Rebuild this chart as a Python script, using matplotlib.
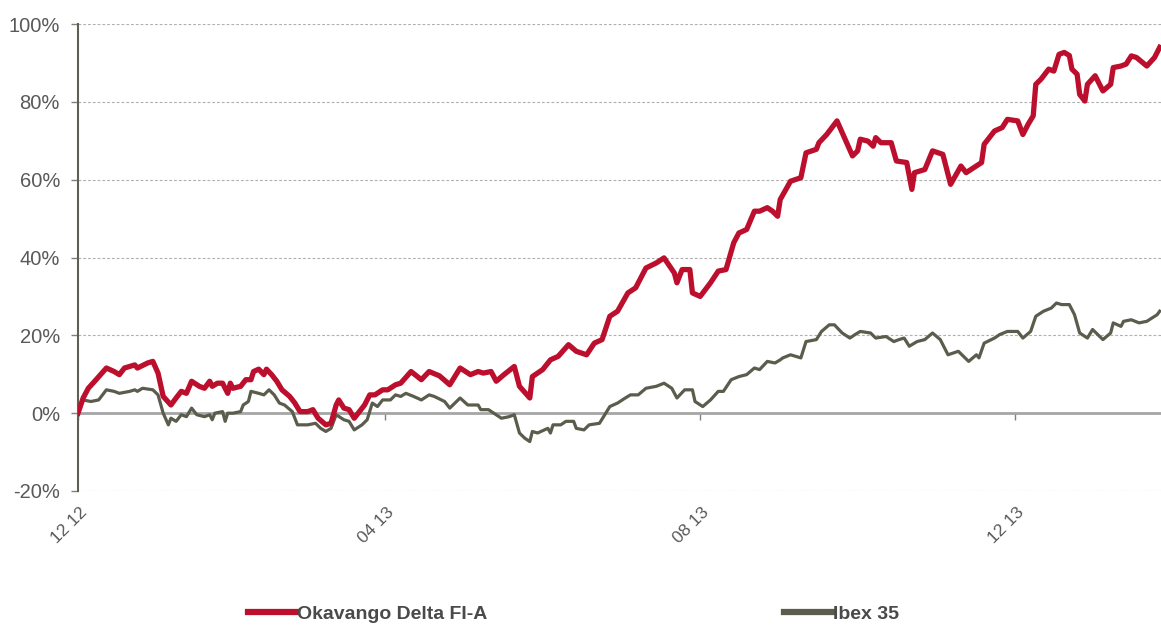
import numpy as np
import pandas as pd
import matplotlib
matplotlib.use("Agg")
import matplotlib.pyplot as plt
import matplotlib.transforms as mtransforms

# days since 2012-12-01, cumulative return in %
okavango_days = [2, 4, 6, 9, 13, 16, 18, 20, 24, 25, 29, 31, 33, 35, 38, 40, 42, 44, 46, 49,
                 51, 53, 54, 56, 58, 60, 61, 62, 65, 67, 69, 70, 72, 74, 75, 77, 79, 81, 84, 86,
                 88, 91, 93, 95, 98, 100, 102, 103, 105, 107, 109, 111, 113, 115, 117, 120, 122, 125, 127,
                 131, 135, 138, 142, 146, 150, 154, 157, 159, 162, 164, 167, 171, 173, 177, 178, 182, 185, 188, 192,
                 195, 199, 202, 205, 208, 211, 215, 218, 222, 226, 229, 233, 234, 236, 239, 240, 243, 247, 250, 253,
                 256, 258, 261, 264, 266, 269, 271, 273, 274,
                 278, 282, 284, 288, 289, 292, 296, 298, 302, 304, 305, 308, 310, 311, 313, 317, 319, 323, 325, 326,
                 330, 333, 337, 340, 344, 346, 349, 352, 353, 357, 360, 362, 366, 368, 370, 372, 373, 375, 378, 380,
                 382, 384, 386, 387, 389, 390, 392, 393, 396, 399, 402, 403, 406, 408, 410, 412, 416, 419, 421]
okavango_vals = [0, 3.9, 6.4, 8.6, 11.6, 10.7, 9.9, 11.6, 12.4, 11.6, 12.9, 13.3, 10.3, 4.3, 2.1, 3.9, 5.6, 5.1, 8.2, 6.9,
                 6.4, 8.2, 6.9, 7.7, 7.7, 5.1, 7.7, 6.4, 6.9, 8.6, 8.6, 10.7, 11.3, 9.9, 11.3, 9.9, 8.2, 6.0, 4.3, 2.6,
                 0.4, 0.4, 0.9, -1.3, -3.0, -2.6, 2.1, 3.4, 1.3, 0.9, -1.3, 0.4, 2.1, 4.7, 4.7, 6.0, 6.0, 7.3, 7.7,
                 10.7, 8.6, 10.7, 9.6, 7.3, 11.6, 9.9, 10.7, 10.3, 10.7, 8.2, 9.9, 12.0, 6.9, 3.9, 9.4, 11.2, 13.7, 14.6, 17.6,
                 15.9, 15.0, 18.0, 18.9, 24.9, 26.2, 30.9, 32.2, 37.3, 38.6, 39.9, 36.0, 33.5, 36.9, 36.9, 30.9, 30.0, 33.5, 36.5, 36.9,
                 43.8, 46.3, 47.2, 51.9, 51.9, 52.8, 51.9, 50.6, 54.9,
                 59.6, 60.5, 66.9, 67.8, 69.5, 71.6, 75.1, 72.1, 66.1, 67.4, 70.4, 69.9, 68.6, 70.8, 69.5, 69.5, 64.8, 64.4, 57.5, 61.8,
                 62.6, 67.4, 66.5, 58.8, 63.5, 61.8, 63.1, 64.4, 69.1, 72.5, 73.4, 75.5, 75.1, 71.6, 74.2, 76.4, 84.5, 85.8, 88.4, 87.9,
                 92.2, 92.7, 91.9, 88.4, 87.1, 81.9, 80.2, 84.5, 86.7, 82.8, 84.5, 88.8, 89.2, 89.7, 91.8, 91.4, 89.2, 91.4, 94.0]

ibex_days = [2, 4, 7, 10, 13, 16, 18, 22, 24, 25, 27, 31, 33, 35, 37, 38, 40, 42, 44, 46,
             48, 51, 53, 54, 55, 58, 59, 60, 62, 65, 66, 68, 69, 72, 74, 76, 78, 80, 82, 85,
             87, 91, 94, 96, 98, 100, 102, 105, 107, 109, 112, 114, 116, 118, 120, 123, 125, 127,
             129, 132, 135, 138, 140, 144, 146, 150, 153, 157, 158, 161, 164, 166, 169, 171, 173, 175, 177, 178,
             180, 184, 185, 186, 189, 191, 194, 195, 198, 200, 204, 208, 211, 214, 216, 219, 222, 226, 229, 232,
             234, 237, 240, 241, 244, 247, 250, 252, 255, 258, 261, 264, 266, 269, 272, 274,
             275, 278, 282, 284, 288, 290, 293, 295, 298, 301, 303, 305, 309, 311, 315, 318, 320, 322, 324, 327,
             330, 333, 336, 339, 343, 347, 350, 351, 353, 357, 359, 362, 366, 368, 371, 373, 376, 379, 381, 383,
             386, 388, 390, 393, 395, 399, 402, 403, 406, 407, 410, 413, 416, 420, 421]
ibex_vals = [0, 3.4, 3.0, 3.4, 6.0, 5.6, 5.1, 5.6, 6.0, 5.6, 6.4, 6.0, 4.7, 0.0, -3.0, -1.3, -2.1, -0.4, -0.9, 1.3,
             -0.4, -0.9, -0.4, -1.7, 0.0, 0.4, -2.1, 0.0, 0.0, 0.4, 2.1, 3.0, 5.6, 5.1, 4.7, 6.0, 4.7, 2.6, 2.1, 0.4,
             -3.0, -3.0, -2.6, -3.9, -4.7, -3.9, -0.4, -1.7, -2.1, -4.3, -3.0, -1.7, 2.6, 1.7, 3.4, 3.4, 4.7, 4.3,
             5.1, 4.3, 3.4, 4.7, 4.3, 3.0, 1.3, 3.9, 2.1, 2.1, 0.9, 0.9, -0.4, -1.3, -0.9, -0.4, -5.1, -6.4, -7.3, -4.7,
             -5.1, -3.9, -5.1, -3.0, -3.0, -2.1, -2.1, -3.9, -4.3, -3.0, -2.6, 1.7, 2.6, 3.9, 4.7, 4.7, 6.4, 6.9, 7.7, 6.4,
             3.9, 6.0, 6.0, 3.0, 1.7, 3.4, 5.6, 5.6, 8.6, 9.4, 9.9, 11.6, 11.2, 13.3, 12.9, 13.7,
             14.2, 15.0, 14.2, 18.4, 18.9, 21.0, 22.7, 22.7, 20.6, 19.3, 20.2, 21.0, 20.6, 19.3, 19.7, 18.4, 18.9, 19.3, 17.2, 18.4,
             18.9, 20.6, 18.9, 15.0, 15.9, 13.3, 15.0, 14.2, 18.0, 19.3, 20.2, 21.0, 21.0, 19.3, 21.0, 24.9, 26.2, 27.0, 28.3, 27.9,
             27.9, 25.3, 20.6, 19.3, 21.5, 18.9, 20.6, 23.2, 22.3, 23.6, 24.0, 23.2, 23.6, 25.3, 26.2]

base_date = pd.Timestamp("2012-12-01")
tick_dates = ["2012-12-03", "2013-04-01", "2013-08-01", "2013-12-01"]
tick_labels = ["12 12", "04 13", "08 13", "12 13"]
y_ticks = [-20, 0, 20, 40, 60, 80, 100]
series_names = ["Okavango Delta FI-A", "Ibex 35"]

red = "#BC0F2E"
olive = "#5B5C4C"
txt = "#595959"

plt.rcParams["font.family"] = ["Liberation Sans", "DejaVu Sans"]

fig = plt.figure(figsize=(11.61, 6.25), dpi=100)
ax = fig.add_axes([78 / 1161, 134 / 625, 1 - 78 / 1161, 467 / 625])

tick_x = [(pd.Timestamp(d) - base_date).days for d in tick_dates]

ax.plot(ibex_days, ibex_vals, color=olive, lw=2.3, solid_joinstyle="round", zorder=3, label=series_names[1])
ax.plot(okavango_days, okavango_vals, color=red, lw=3.8, solid_joinstyle="round", zorder=4, label=series_names[0])

ax.set_xlim(2, 421.5)
ax.set_ylim(-20, 100)

# dashed grid, zero line is the x spine
for v in y_ticks:
    if v != 0:
        ax.axhline(v, color="#B0B0B0", lw=0.8, ls=(0, (2.5, 1.8)), zorder=1)

ax.set_yticks(y_ticks)
ax.set_yticklabels([f"{v}%" for v in y_ticks], fontsize=14.5, color=txt)
ax.tick_params(axis="y", direction="out", length=5, width=1, color="#808080", pad=8)

ax.spines["top"].set_visible(False)
ax.spines["right"].set_visible(False)
ax.spines["left"].set_color("#5F5F55")
ax.spines["left"].set_linewidth(1.5)
ax.spines["bottom"].set_position(("data", 0))
ax.spines["bottom"].set_color("#A6A6A6")
ax.spines["bottom"].set_linewidth(2)
ax.spines["bottom"].set_zorder(2)

ax.set_xticks(tick_x)
ax.set_xticklabels([])
ax.tick_params(axis="x", direction="out", length=5, width=1, color="#808080")

trans = mtransforms.blended_transform_factory(ax.transData, ax.transAxes)
for x, lab in zip(tick_x, tick_labels):
    ax.annotate(lab, xy=(x, 0), xycoords=trans, xytext=(1, -10), textcoords="offset points",
                rotation=45, ha="right", va="top", fontsize=12.5, color=txt, rotation_mode="anchor")

handles, labels = ax.get_legend_handles_labels()
leg = fig.legend(handles[::-1], labels[::-1], loc="center", bbox_to_anchor=(0.494, 0.017), ncol=2,
                 frameon=False, handlelength=2.5, handletextpad=0.0, columnspacing=15.3,
                 prop={"weight": "bold", "size": 14})
for t in leg.get_texts():
    t.set_color("#4A4A4A")
for h in leg.get_lines():
    h.set_linewidth(4.5)

fig.savefig("out.png", dpi=100)
